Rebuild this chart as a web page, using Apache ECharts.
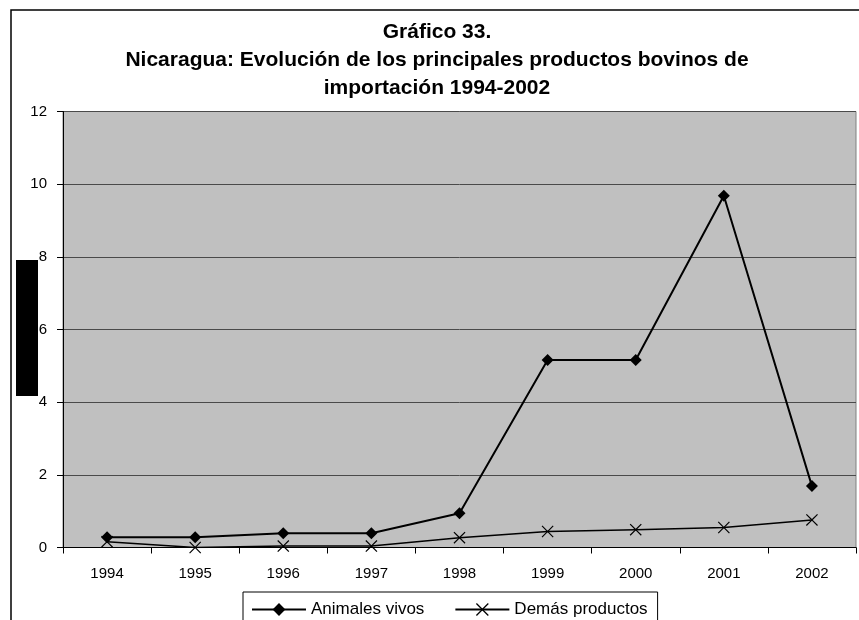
<!DOCTYPE html>
<html>
<head>
<meta charset="utf-8">
<script src="https://cdn.jsdelivr.net/npm/echarts@6/dist/echarts.min.js"></script>
<style>
  html, body { margin: 0; padding: 0; background: #fff; }
  #chart { width: 859px; height: 620px; }
</style>
</head>
<body>
<div id="chart"></div>
<script>
// datos
var years = ['1994', '1995', '1996', '1997', '1998', '1999', '2000', '2001', '2002']
var animalesVivos = [0.28, 0.28, 0.39, 0.39, 0.94, 5.16, 5.16, 9.68, 1.69]
var demasProductos = [0.16, 0.0, 0.04, 0.04, 0.27, 0.44, 0.49, 0.55, 0.76]
var yTicks = [0, 2, 4, 6, 8, 10, 12]

var fontFamily = "'Liberation Sans', Arial, sans-serif"
// marcador en forma de X (relleno, trazo fino)
var xSymbol = 'path://M0,0.7L0.7,0L5,4.3L9.3,0L10,0.7L5.7,5L10,9.3L9.3,10L5,5.7L0.7,10L0,9.3L4.3,5Z'

var myChart = echarts.init(document.getElementById('chart'))

var option = {
  backgroundColor: '#fff',
  animation: false,
  title: {
    text: 'Gráfico 33.\nNicaragua: Evolución de los principales productos bovinos de\nimportación 1994-2002',
    left: 432,
    top: 13,
    textAlign: 'center',
    textStyle: {
      fontFamily: fontFamily,
      fontSize: 21,
      fontWeight: 'bold',
      lineHeight: 28,
      color: '#000'
    }
  },
  graphic: [
    {
      type: 'rect',
      z: -1,
      shape: { x: 11, y: 10, width: 900, height: 700 },
      style: { fill: 'none', stroke: '#000', lineWidth: 1.5 }
    },
    {
      type: 'rect',
      shape: { x: 16, y: 260, width: 22, height: 136 },
      style: { fill: '#000' }
    }
  ],
  legend: {
    left: 243,
    top: 592,
    padding: [9, 10, 20, 8],
    itemGap: 30,
    itemWidth: 54,
    itemHeight: 16,
    borderColor: '#000',
    borderWidth: 1,
    borderRadius: 0,
    textStyle: { fontFamily: fontFamily, fontSize: 17, color: '#000' }
  },
  grid: {
    left: 63,
    right: 3,
    top: 111.5,
    bottom: 72.5,
    show: true,
    backgroundColor: '#c0c0c0',
    borderColor: '#808080',
    borderWidth: 1
  },
  xAxis: {
    type: 'category',
    data: years,
    boundaryGap: true,
    axisLine: { lineStyle: { color: '#000', width: 1 } },
    axisTick: { show: true, length: 6, lineStyle: { color: '#000' } },
    axisLabel: { margin: 19, fontFamily: fontFamily, fontSize: 15, color: '#000' }
  },
  yAxis: {
    type: 'value',
    min: yTicks[0],
    max: yTicks[yTicks.length - 1],
    interval: 2,
    axisLine: { show: true, lineStyle: { color: '#000', width: 1 } },
    axisTick: { show: true, length: 6, lineStyle: { color: '#000' } },
    axisLabel: { margin: 16, fontFamily: fontFamily, fontSize: 15, color: '#000' },
    splitLine: { show: true, lineStyle: { color: '#4a4a4a', width: 1 } }
  },
  series: [
    {
      name: 'Animales vivos',
      type: 'line',
      data: animalesVivos,
      symbol: 'diamond',
      symbolSize: 12,
      lineStyle: { color: '#000', width: 2 },
      itemStyle: { color: '#000' }
    },
    {
      name: 'Demás productos',
      type: 'line',
      data: demasProductos,
      symbol: xSymbol,
      symbolSize: 12,
      lineStyle: { color: '#000', width: 1.5 },
      itemStyle: { color: '#000' }
    }
  ]
}

myChart.setOption(option)
</script>
</body>
</html>
